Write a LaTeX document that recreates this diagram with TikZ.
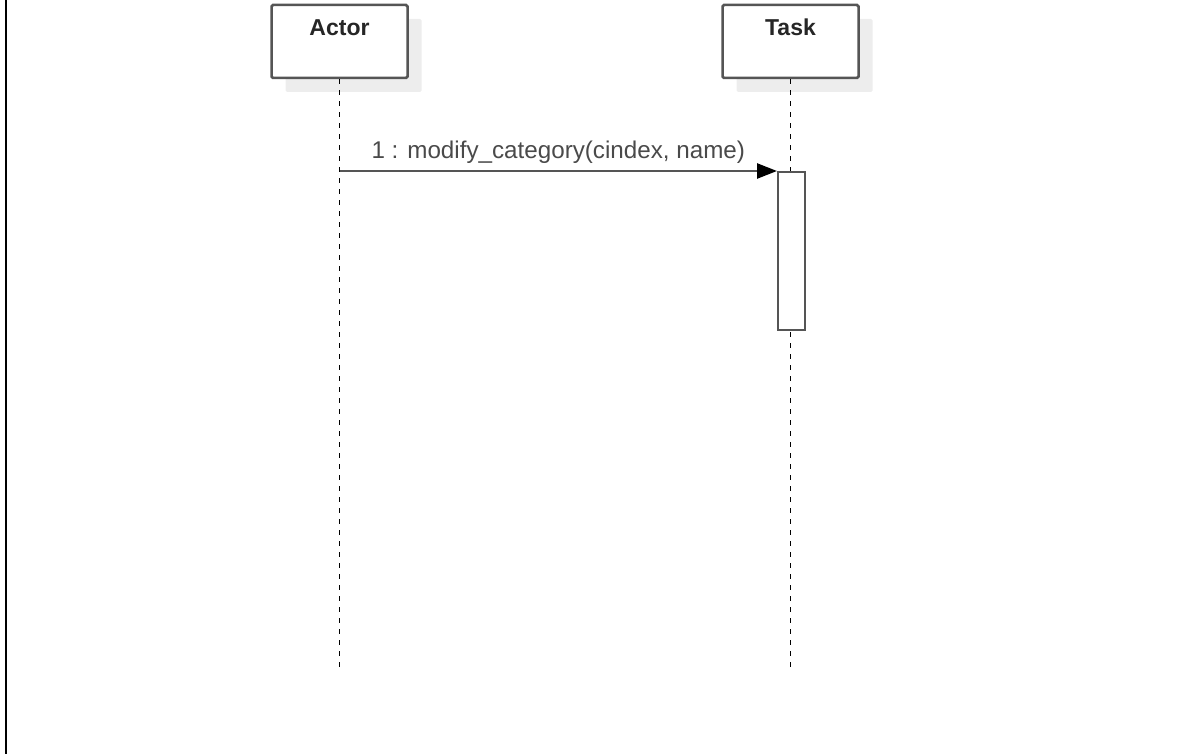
\documentclass[tikz,border=0pt]{standalone}
\usepackage{fontspec}
\setmainfont{Liberation Sans}
\usetikzlibrary{arrows.meta,shadows}
\definecolor{boxgray}{HTML}{555555}
\definecolor{shadowgray}{HTML}{EDEDED}
\definecolor{labelgray}{HTML}{4A4A4A}
\tikzset{
	objbox/.style={draw=boxgray, line width=2.5pt, fill=white, rounded corners=1.5pt,
		minimum width=136pt, minimum height=73pt, inner sep=0pt,
		general shadow={fill=shadowgray, shadow xshift=14pt, shadow yshift=-14pt}},
	objname/.style={anchor=base, font=\fontsize{23}{27}\selectfont\bfseries, text=black!85},
	lifeline/.style={line width=1.8pt, dash pattern=on 5pt off 6pt},
	actbox/.style={draw=boxgray, line width=2pt, fill=white, minimum width=27pt, minimum height=158pt, inner sep=0pt},
	msg/.style={draw=boxgray, line width=2.5pt, -{Triangle[length=20pt,width=15pt,color=black]}},
	msglabel/.style={anchor=base, font=\fontsize{24.2}{28}\selectfont, text=labelgray}
}
\begin{document}
\begin{tikzpicture}[x=1pt,y=-1pt]
		\useasboundingbox (0,0) rectangle (1179,754);
		\draw[line width=2pt] (6,0) -- (6,754);
		% objects
		\node[objbox] (actor) at (339.5,41.5) {};
		\node[objbox] (task) at (790.5,41.5) {};
		\node[objname] at ([yshift=-32pt]actor.north) {Actor};
		\node[objname] at ([yshift=-32pt]task.north) {Task};
		% lifelines
		\coordinate (actor-end) at (339.5,672);
		\coordinate (task-end) at (790.5,672);
		\draw[lifeline] (actor.south) -- (actor-end);
		\draw[lifeline] (task.south) -- (task-end);
		% activation and message
		\node[actbox, anchor=north west] (act) at (777,171) {};
		\draw[msg] (actor.south |- act.north) -- node[msglabel, yshift=12pt] {1 : modify\_category(cindex, name)} (act.north west);
	\end{tikzpicture}
\end{document}
